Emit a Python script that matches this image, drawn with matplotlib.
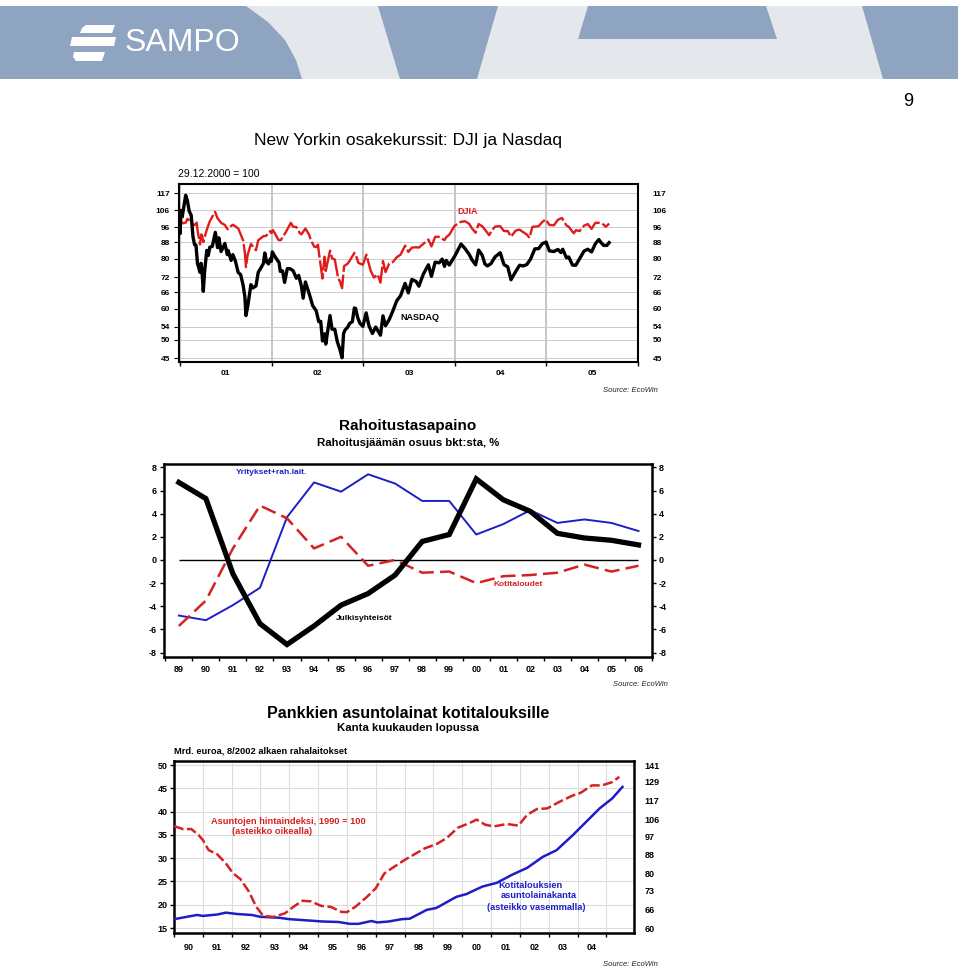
import matplotlib
matplotlib.use("Agg")
import matplotlib.pyplot as plt
import numpy as np
import pandas as pd
from matplotlib.patches import Polygon, Rectangle
from matplotlib.ticker import NullLocator, FixedLocator, FixedFormatter

plt.rcParams['font.family'] = ['Liberation Sans', 'DejaVu Sans']

# ---------------- DATA ----------------
# Chart 1: New York stock indices, 29.12.2000 = 100
nasdaq_dates = [
    "2000-12-29", "2001-01-02", "2001-01-03", "2001-01-10", "2001-01-24", "2001-01-31", "2001-02-07",
    "2001-02-15", "2001-02-22", "2001-02-28", "2001-03-06", "2001-03-12", "2001-03-16", "2001-03-22",
    "2001-03-26", "2001-03-30", "2001-04-04", "2001-04-10", "2001-04-18", "2001-04-24", "2001-04-30",
    "2001-05-10", "2001-05-22", "2001-05-31", "2001-06-05", "2001-06-14", "2001-06-29", "2001-07-09",
    "2001-07-12", "2001-07-24", "2001-07-31", "2001-08-10", "2001-08-21", "2001-08-31", "2001-09-10",
    "2001-09-17", "2001-09-21", "2001-09-28", "2001-10-05", "2001-10-11", "2001-10-19", "2001-10-31",
    "2001-11-09", "2001-11-20", "2001-11-30", "2001-12-05", "2001-12-12", "2001-12-20", "2001-12-27",
    "2001-12-31",
    "2002-01-04", "2002-01-15", "2002-01-31", "2002-02-05", "2002-02-14", "2002-02-22", "2002-03-05",
    "2002-03-15", "2002-03-28", "2002-04-10", "2002-04-19", "2002-04-30", "2002-05-07", "2002-05-16",
    "2002-05-31", "2002-06-14", "2002-06-28", "2002-07-08", "2002-07-16", "2002-07-23", "2002-07-26",
    "2002-08-01", "2002-08-05", "2002-08-22", "2002-08-30", "2002-09-10", "2002-09-20", "2002-09-30",
    "2002-10-09", "2002-10-15", "2002-10-21", "2002-10-31", "2002-11-08", "2002-11-19", "2002-11-27",
    "2002-12-02", "2002-12-10", "2002-12-19", "2002-12-31",
    "2003-01-13", "2003-01-24", "2003-02-07", "2003-02-20", "2003-03-11", "2003-03-21", "2003-03-31",
    "2003-04-15", "2003-04-30", "2003-05-15", "2003-05-30", "2003-06-17", "2003-06-30", "2003-07-14",
    "2003-07-31", "2003-08-11", "2003-08-29", "2003-09-18", "2003-09-30", "2003-10-15", "2003-10-31",
    "2003-11-12", "2003-11-21", "2003-11-28", "2003-12-10", "2003-12-31",
    "2004-01-26", "2004-02-11", "2004-02-27", "2004-03-10", "2004-03-24", "2004-04-05", "2004-04-19",
    "2004-04-30", "2004-05-10", "2004-05-24", "2004-06-10", "2004-06-30", "2004-07-15", "2004-07-30",
    "2004-08-12", "2004-08-31", "2004-09-15", "2004-09-30", "2004-10-14", "2004-10-29", "2004-11-15",
    "2004-11-30", "2004-12-15", "2004-12-30",
    "2005-01-03", "2005-01-13", "2005-01-31", "2005-02-16", "2005-02-28", "2005-03-07", "2005-03-22",
    "2005-03-31", "2005-04-15", "2005-04-28", "2005-05-13", "2005-05-31", "2005-06-15", "2005-06-30",
    "2005-07-15", "2005-07-29", "2005-08-05", "2005-08-17", "2005-08-30", "2005-09-08",
]
nasdaq_values = [
    100, 92.7, 106, 102, 115.7, 112, 105.5, 103, 91, 87, 86.7, 77.8, 76.5, 74, 78, 74.5, 66.3, 75, 84,
    81.6, 85.6, 86, 93.3, 85.4, 90.4, 83.5, 87.5, 82, 84, 79.3, 82, 79, 74, 73, 68.6, 64, 57.6, 60.7,
    65, 68.9, 67.6, 68.4, 74, 76, 78, 82.8, 78.8, 77.7, 80, 78.9,
    83.3, 81, 78.3, 74.4, 74.6, 69.8, 75.6, 75.6, 74.7, 71.5, 72.7, 68.3, 63.7, 70, 65.4, 61, 59.2,
    55.6, 55.7, 49.7, 51, 51.8, 48.8, 57.6, 53.2, 53.2, 49.5, 47.4, 45.1, 51.9, 53, 53.8, 55, 55.6,
    60.2, 60, 57, 55.1, 54.1,
    58.5, 54.3, 51.9, 53.9, 51.4, 57.5, 54.3, 56.3, 59.3, 62.8, 64.6, 69.4, 65.7, 71, 70.2, 68.3, 73.3,
    77.3, 72.3, 78.5, 78.2, 79.9, 76.6, 79.3, 77.2, 81.1,
    87.2, 84.9, 82.2, 79.5, 77.3, 84.2, 81.8, 77.7, 76.8, 77.8, 81, 82.9, 77.4, 76.4, 70.9, 74.4, 77.1,
    76.8, 77.4, 79.9, 84.8, 84.9, 87.4, 88.2,
    87.1, 83.8, 83.5, 84.5, 83, 84.6, 80.5, 80.9, 77.2, 77.1, 80, 83.7, 84.6, 83.3, 87.3, 89.5, 88.2,
    86.5, 86.5, 87.9,
]
djia_dates = [
    "2000-12-29", "2001-01-02", "2001-01-03", "2001-01-10", "2001-01-24", "2001-01-31", "2001-02-09",
    "2001-02-22", "2001-02-28", "2001-03-09", "2001-03-12", "2001-03-22", "2001-03-27", "2001-03-30",
    "2001-04-04", "2001-04-18", "2001-04-30", "2001-05-21", "2001-05-31", "2001-06-15", "2001-06-29",
    "2001-07-10", "2001-07-20", "2001-07-31", "2001-08-10", "2001-08-22", "2001-08-31", "2001-09-10",
    "2001-09-17", "2001-09-21", "2001-09-28", "2001-10-11", "2001-10-31", "2001-11-09", "2001-11-30",
    "2001-12-10", "2001-12-27", "2001-12-31",
    "2002-01-07", "2002-01-29", "2002-02-07", "2002-02-28", "2002-03-19", "2002-03-28", "2002-04-10",
    "2002-04-23", "2002-04-30", "2002-05-16", "2002-05-31", "2002-06-07", "2002-06-21", "2002-06-28",
    "2002-07-05", "2002-07-10", "2002-07-19", "2002-07-23", "2002-07-31", "2002-08-05", "2002-08-22",
    "2002-08-30", "2002-09-10", "2002-09-24", "2002-09-30", "2002-10-09", "2002-10-17", "2002-10-31",
    "2002-11-08", "2002-11-27", "2002-12-02", "2002-12-13", "2002-12-31",
    "2003-01-14", "2003-01-31", "2003-02-13", "2003-02-28", "2003-03-11", "2003-03-21", "2003-03-31",
    "2003-04-15", "2003-04-30", "2003-05-15", "2003-05-30", "2003-06-17", "2003-06-30", "2003-07-14",
    "2003-07-31", "2003-08-11", "2003-08-29", "2003-09-18", "2003-09-30", "2003-10-15", "2003-10-31",
    "2003-11-21", "2003-11-28", "2003-12-10", "2003-12-31",
    "2004-01-26", "2004-02-11", "2004-02-27", "2004-03-10", "2004-03-24", "2004-04-05", "2004-04-19",
    "2004-04-30", "2004-05-17", "2004-05-28", "2004-06-10", "2004-06-30", "2004-07-15", "2004-07-30",
    "2004-08-12", "2004-08-31", "2004-09-15", "2004-09-30", "2004-10-14", "2004-10-25", "2004-11-05",
    "2004-11-30", "2004-12-15", "2004-12-28", "2004-12-31",
    "2005-01-13", "2005-01-31", "2005-02-16", "2005-03-04", "2005-03-22", "2005-03-31", "2005-04-20",
    "2005-04-29", "2005-05-13", "2005-05-31", "2005-06-15", "2005-06-30", "2005-07-15", "2005-07-29",
    "2005-08-10", "2005-08-26", "2005-09-08",
]
djia_values = [
    100, 98.7, 101.5, 98.3, 98.7, 100.9, 99.9, 97.6, 97.3, 98.7, 94.6, 87, 92.2, 91.6, 88.2, 94.7,
    99.5, 105.1, 101.2, 98.5, 97.4, 95, 96.5, 97.5, 96.6, 95.3, 92.2, 89, 82.7, 76.3, 82, 87.2, 84.1,
    89.1, 91.3, 91.4, 94, 92.9,
    94.5, 89.2, 89.2, 93.7, 98.6, 96.4, 96.2, 93, 92.2, 95.4, 92, 88.9, 85.8, 85.7, 86.9, 81.7, 74.3,
    71.4, 81, 74.6, 83.9, 80.3, 79.7, 71.2, 70.4, 67.5, 76.7, 77.8, 79.1, 82.8, 82.1, 78.2, 77.3,
    82, 74.7, 71.8, 73.1, 69.7, 79, 74.1, 77.9, 78.6, 80.8, 82, 86.4, 83.3, 85.4, 85.6, 85.4, 87.3,
    89.5, 86, 90.9, 90.9, 89.2, 90.7, 92, 96.9,
    99.2, 99.5, 98.1, 95.4, 93.1, 97.9, 96.7, 94.8, 91.8, 94.4, 96.5, 96.7, 94, 94, 91, 94.3, 94.8,
    93.4, 92.1, 90.4, 96.3, 96.7, 99.1, 100.6, 100,
    97.4, 97.2, 100.4, 101.4, 97.1, 96.4, 92.8, 94.5, 94, 97, 97.9, 95.2, 98.6, 98.6, 98.4, 96.4, 98.2,
]
stock_ticks = [45, 50, 54, 60, 66, 72, 80, 88, 96, 106, 117]
stock_year_labels = ["01", "02", "03", "04", "05"]

# Chart 2: financial balance, % of GDP
bal_years = list(range(1989, 2007))
bal_labels = ["89", "90", "91", "92", "93", "94", "95", "96", "97", "98", "99",
              "00", "01", "02", "03", "04", "05", "06"]
julkisyhteisot = [6.7, 5.3, -1.2, -5.5, -7.3, -5.7, -3.9, -2.9, -1.3, 1.6, 2.2, 7.0, 5.2, 4.2,
                  2.3, 1.9, 1.7, 1.3]
yritykset = [-4.8, -5.2, -3.9, -2.4, 3.7, 6.7, 5.9, 7.4, 6.6, 5.1, 5.1, 2.2, 3.1, 4.3, 3.2, 3.5,
             3.2, 2.5]
kotitaloudet = [-5.7, -3.5, 1.0, 4.7, 3.6, 1.0, 2.0, -0.5, 0.0, -1.1, -1.0, -2.0, -1.4, -1.3,
                -1.1, -0.4, -1.0, -0.5]
bal_ticks = [-8, -6, -4, -2, 0, 2, 4, 6, 8]

# Chart 3: housing loans (bn EUR, left) and house price index (1990=100, right, log)
loan_t = [1990.0, 1990.8, 1991.0, 1991.5, 1991.8, 1992.2, 1992.7, 1993.0, 1993.65, 1994.0, 1994.7,
          1995.15, 1995.7, 1996.1, 1996.4, 1996.85, 1997.05, 1997.45, 1997.9, 1998.18, 1998.77,
          1999.1, 1999.8, 2000.15, 2000.7, 2001.2, 2001.75, 2002.25, 2002.8, 2003.27, 2003.83,
          2004.3, 2004.77, 2005.2, 2005.56]
loans = [16.9, 17.8, 17.6, 17.9, 18.3, 18.0, 17.8, 17.4, 17.2, 16.9, 16.6, 16.4, 16.3, 15.9, 15.9,
         16.5, 16.2, 16.4, 16.9, 17.0, 18.9, 19.3, 21.7, 22.3, 23.9, 24.7, 26.5, 27.9, 30.3, 31.7,
         34.9, 37.8, 40.7, 42.8, 45.3]
price_t = [1990.0, 1990.3, 1990.6, 1990.85, 1991.0, 1991.2, 1991.5, 1991.8, 1992.05, 1992.3,
           1992.6, 1992.85, 1993.1, 1993.45, 1993.85, 1994.15, 1994.45, 1994.75, 1995.1, 1995.45,
           1995.8, 1996.0, 1996.3, 1996.7, 1997.0, 1997.3, 1997.65, 1998.0, 1998.3, 1998.7, 1999.1,
           1999.45, 1999.85, 2000.25, 2000.5, 2000.8, 2001.1, 2001.55, 2001.95, 2002.25, 2002.6,
           2002.95, 2003.4, 2003.85, 2004.1, 2004.5, 2004.85, 2005.2, 2005.45]
prices = [102.4, 100.8, 100.8, 97.7, 95.2, 90.3, 88.3, 84.2, 79.9, 77.6, 72.6, 67.1, 63.9, 63.6,
          64.8, 67.1, 69.2, 69.0, 67.4, 67.0, 65.3, 65.2, 67.1, 70.7, 73.9, 79.9, 82.8, 85.7, 88.0,
          91.1, 93.1, 96.0, 101.5, 104.0, 105.9, 103.1, 102.2, 103.5, 102.6, 108.6, 112.0, 112.3,
          116.5, 120.3, 121.8, 126.7, 126.7, 128.9, 132.5]
loan_ticks = [15, 20, 25, 30, 35, 40, 45, 50]
price_ticks = [60, 66, 73, 80, 88, 97, 106, 117, 129, 141]
loan_year_labels = ["90", "91", "92", "93", "94", "95", "96", "97", "98", "99",
                    "00", "01", "02", "03", "04"]

# ---------------- FIGURE ----------------
W, H = 960, 969
fig = plt.figure(figsize=(9.6, 9.69), dpi=100)
fig.patch.set_facecolor('white')


def rect(l, t, r, b):
    return [l / W, 1 - b / H, (r - l) / W, (b - t) / H]


def ftext(x, y, s, **kw):
    kw.setdefault('va', 'center')
    fig.text(x / W, 1 - y / H, s, **kw)


def decyear(dates):
    d = pd.to_datetime(pd.Series(dates))
    return (d.dt.year + (d.dt.dayofyear - 1) / 365.0).to_numpy()


def bold_labels(labels):
    for lab in labels:
        lab.set_fontweight('bold')


# ---- header banner ----
bg = fig.add_axes([0, 0, 1, 1], zorder=-10)
bg.set_xlim(0, W)
bg.set_ylim(H, 0)
bg.axis('off')
bg.add_patch(Rectangle((0, 6), 958, 73, fc='#8ea4c1', ec='none'))
light = '#e4e8ec'
bg.add_patch(Polygon([(246, 6), (268, 22), (285, 40), (296, 60), (302, 79), (400, 79), (378, 6)],
                     closed=True, fc=light, ec='none'))
bg.add_patch(Polygon([(498, 6), (588, 6), (578, 39), (777, 39), (766, 6), (862, 6), (883, 79),
                      (477, 79)], closed=True, fc=light, ec='none'))
# logo mark
for poly in ([(86, 25), (115, 25), (112, 33), (80, 33), (82, 28)],
             [(72, 37), (116, 37), (114, 46), (70, 46)],
             [(74, 52), (105, 52), (102, 61), (76, 61), (73, 57)]):
    bg.add_patch(Polygon(poly, closed=True, fc='white', ec='none'))
ftext(125, 43, 'SAMPO', fontsize=23, color='white', ha='left')
ftext(908, 101, '9', fontsize=13, ha='center')

RED1 = '#e01b1b'
RED = '#d42222'
BLUE = '#1e1ec4'

# ---------------- Chart 1 ----------------
ftext(408, 140, 'New Yorkin osakekurssit: DJI ja Nasdaq', fontsize=12.5, ha='center')
ftext(178, 174, '29.12.2000 = 100', fontsize=7.5, ha='left')

ax1 = fig.add_axes(rect(179, 184, 638, 362))
ax1.plot(decyear(djia_dates), djia_values, color=RED1, lw=1.7, dashes=(10, 1.2), zorder=3)
ax1.plot(decyear(nasdaq_dates), nasdaq_values, color='black', lw=2.4, zorder=4)
ax1.set_yscale('log')
ax1.set_ylim(44.0, 123.5)
ax1.set_xlim(2000.99, 2006.0)
ax1.yaxis.set_major_locator(FixedLocator(stock_ticks))
ax1.yaxis.set_major_formatter(FixedFormatter([str(v) for v in stock_ticks]))
ax1.yaxis.set_minor_locator(NullLocator())
ax1.tick_params(axis='y', which='both', left=False, right=False, labelsize=6, pad=3)
bold_labels(ax1.get_yticklabels())
ax1.grid(axis='y', color='#cccccc', lw=0.7)
ax1.set_xticks(np.arange(2001, 2007))
ax1.set_xticklabels([])
ax1.set_xticks(np.arange(2001.5, 2006.0, 1.0), minor=True)
ax1.set_xticklabels(stock_year_labels, minor=True, fontweight='bold')
ax1.tick_params(axis='x', which='major', length=3, width=1, direction='out')
ax1.tick_params(axis='x', which='minor', length=0, labelsize=6, pad=6)
ax1.grid(axis='x', which='major', color='#b5b5b5', lw=1.1)
for s in ax1.spines.values():
    s.set_linewidth(1.5)
ax1r = ax1.twinx()
ax1r.set_yscale('log')
ax1r.set_ylim(ax1.get_ylim())
ax1r.yaxis.set_major_locator(FixedLocator(stock_ticks))
ax1r.yaxis.set_major_formatter(FixedFormatter([str(v) for v in stock_ticks]))
ax1r.yaxis.set_minor_locator(NullLocator())
ax1r.tick_params(axis='y', which='both', right=False, labelsize=6, pad=7)
bold_labels(ax1r.get_yticklabels())
for s in ax1r.spines.values():
    s.set_visible(False)
ftext(457, 211, 'DJIA', color=RED1, fontsize=6.5, fontweight='bold', ha='left')
ftext(400, 317, 'NASDAQ', color='black', fontsize=6.5, fontweight='bold', ha='left')
ftext(658, 390, 'Source: EcoWin', fontsize=5.5, style='italic', ha='right', color='#222222')

# ---------------- Chart 2 ----------------
ftext(408, 426, 'Rahoitustasapaino', fontsize=11, fontweight='bold', ha='center')
ftext(408, 443, 'Rahoitusjäämän osuus bkt:sta, %', fontsize=8.2, fontweight='bold', ha='center')

ax2 = fig.add_axes(rect(164, 464, 652, 657))
ax2.hlines(0, bal_years[0], bal_years[-1], color='black', lw=1.0, zorder=2)
ax2.plot(bal_years, yritykset, color=BLUE, lw=1.4, zorder=3)
ax2.plot(bal_years, kotitaloudet, color=RED, lw=1.8, dashes=(6, 2.5), zorder=3)
ax2.plot(bal_years, julkisyhteisot, color='black', lw=3.8, zorder=4, solid_joinstyle='miter')
ax2.set_xlim(1988.45, 2006.48)
ax2.set_ylim(-8.38, 8.29)
ax2.set_yticks(bal_ticks)
ax2.set_yticklabels([str(v) for v in bal_ticks])
ax2.tick_params(axis='y', left=True, right=True, labelleft=True, labelright=True, length=3,
                width=1, direction='out', labelsize=6.5, pad=2)
bold_labels(ax2.get_yticklabels())
ax2.set_xticks(np.arange(1988.5, 2007.0, 1.0))
ax2.set_xticklabels([])
ax2.set_xticks(bal_years, minor=True)
ax2.set_xticklabels(bal_labels, minor=True, fontweight='bold')
ax2.tick_params(axis='x', which='major', length=3, width=1, direction='out')
ax2.tick_params(axis='x', which='minor', length=0, labelsize=6.5, pad=6)
for s in ax2.spines.values():
    s.set_linewidth(1.8)
ftext(236, 473, 'Yritykset+rah.lait.', fontsize=6, fontweight='bold', color=BLUE, ha='left')
ftext(493, 585, 'Kotitaloudet', fontsize=6, fontweight='bold', color=RED, ha='left')
ftext(336, 619, 'Julkisyhteisöt', fontsize=6, fontweight='bold', color='black', ha='left')
ftext(668, 684, 'Source: EcoWin', fontsize=5.5, style='italic', ha='right', color='#222222')

# ---------------- Chart 3 ----------------
ftext(408, 713, 'Pankkien asuntolainat kotitalouksille', fontsize=11.5, fontweight='bold', ha='center')
ftext(408, 728, 'Kanta kuukauden lopussa', fontsize=8.2, fontweight='bold', ha='center')
ftext(174, 751, 'Mrd. euroa, 8/2002 alkaen rahalaitokset', fontsize=6.7, fontweight='bold', ha='left')

ax3 = fig.add_axes(rect(174, 761, 634, 933))
lo, hi = 13.93, 50.86
ax3.set_xlim(1990.0, 2005.96)
ax3.set_ylim(lo, hi)
ax3.plot(loan_t, loans, color=BLUE, lw=1.8, zorder=3)
ax3.set_yticks(loan_ticks)
ax3.set_yticklabels([str(v) for v in loan_ticks], fontweight='bold')
ax3.tick_params(axis='y', left=True, length=3, width=1, direction='out', labelsize=6.5, pad=1.5)
ax3.grid(axis='y', color='#dddddd', lw=0.8)
ax3.set_xticks(np.arange(1990, 2006))
ax3.set_xticklabels([])
ax3.set_xticks(np.arange(1990.5, 2005.0, 1.0), minor=True)
ax3.set_xticklabels(loan_year_labels, minor=True, fontweight='bold')
ax3.tick_params(axis='x', which='major', length=3, width=1, direction='out')
ax3.tick_params(axis='x', which='minor', length=0, labelsize=6.5, pad=7)
ax3.grid(axis='x', which='major', color='#dddddd', lw=0.8)
for s in ax3.spines.values():
    s.set_linewidth(1.8)

# right log axis aligned so that 60 sits at 15 and 141 at 50
f15 = (15 - lo) / (hi - lo)
f50 = (50 - lo) / (hi - lo)
L60, L141 = np.log(60), np.log(141)
slope = (L141 - L60) / (f50 - f15)
ax3r = ax3.twinx()
ax3r.set_yscale('log')
ax3r.set_ylim(np.exp(L60 - f15 * slope), np.exp(L141 + (1 - f50) * slope))
ax3r.plot(price_t, prices, color=RED, lw=1.8, dashes=(4, 1.4), zorder=3)
ax3r.yaxis.set_major_locator(FixedLocator(price_ticks))
ax3r.yaxis.set_major_formatter(FixedFormatter([str(v) for v in price_ticks]))
ax3r.yaxis.set_minor_locator(NullLocator())
ax3r.tick_params(axis='y', which='both', right=False, labelsize=6.5, pad=4)
bold_labels(ax3r.get_yticklabels())
for s in ax3r.spines.values():
    s.set_visible(False)

ftext(211, 821, 'Asuntojen hintaindeksi, 1990 = 100', fontsize=6.7, fontweight='bold', color=RED, ha='left')
ftext(232, 832, '(asteikko oikealla)', fontsize=6.7, fontweight='bold', color=RED, ha='left')
ftext(498, 885, 'Kotitalouksien', fontsize=6.7, fontweight='bold', color=BLUE, ha='left')
ftext(501, 896, 'asuntolainakanta', fontsize=6.7, fontweight='bold', color=BLUE, ha='left')
ftext(487, 907, '(asteikko vasemmalla)', fontsize=6.7, fontweight='bold', color=BLUE, ha='left')
ftext(658, 965, 'Source: EcoWin', fontsize=5.5, style='italic', ha='right', color='#222222')

fig.savefig('out.png', dpi=100, facecolor='white')
